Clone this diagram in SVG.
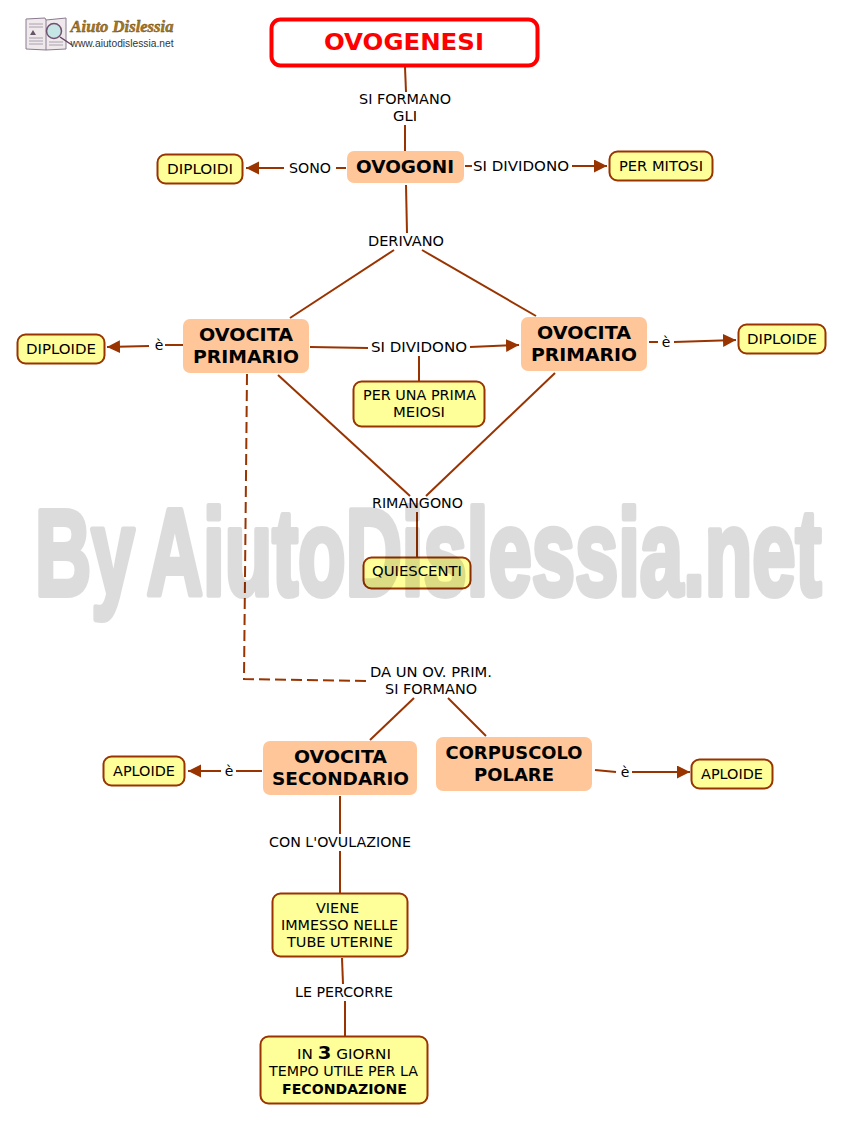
<svg xmlns="http://www.w3.org/2000/svg" width="855" height="1134" viewBox="0 0 855 1134">
<defs>
<marker id="arrow" markerUnits="userSpaceOnUse" markerWidth="14" markerHeight="14" refX="13" refY="6.5" orient="auto"><path d="M0,0 L13,6.5 L0,13 Z" fill="#993300"/></marker>
</defs>
<style>
text{font-family:"DejaVu Sans",Verdana,sans-serif;fill:#000;text-anchor:middle}
.l{font-size:14px}
.b{font-size:18px;font-weight:bold}
.c line,.c polyline{stroke:#993300;stroke-width:2;fill:none}
.a{marker-end:url(#arrow)}
.y{fill:#ffff99;stroke:#993300;stroke-width:2}
.o{fill:#ffc799}
.pg{stroke:#a9a0ae;stroke-width:1}
</style>
<rect width="855" height="1134" fill="#fff"/>
<g id="logo">
<path d="M26,19 L45,18 L46,20 L66,18 L66,49 L46,50 L26,49 Z" fill="#efe9ec" stroke="#8a7a90"/>
<line x1="46" y1="20" x2="46" y2="50" stroke="#8a7a90"/>
<path d="M29,24H43M29,27H43M29,38H43M29,41H43M29,44H43M49,42H63M49,45H63" class="pg"/>
<path d="M30,35 l3,-5 l3,5 Z" fill="#665566"/>
<circle cx="54" cy="31" r="7.5" fill="#c5e6e4" stroke="#705070" stroke-width="1.5"/>
<line x1="60" y1="37" x2="72" y2="45" stroke="#604060" stroke-width="1.5"/>
<text x="122" y="32" textLength="103" lengthAdjust="spacingAndGlyphs" style="font-family:'Liberation Serif',serif;font-size:16px;font-weight:bold;font-style:italic;fill:#a87820;stroke:#6b4a14;stroke-width:.4">Aiuto Dislessia</text>
<text x="122" y="47" textLength="103" lengthAdjust="spacingAndGlyphs" style="font-family:'Liberation Sans',sans-serif;font-size:10.400px;fill:#333">www.aiutodislessia.net</text>
</g>
<g id="connectors" class="c">
<line x1="405" y1="67" x2="406" y2="92"/>
<line x1="405" y1="125" x2="405" y2="151"/>
<line x1="346" y1="168" x2="336" y2="168"/>
<line x1="284" y1="168" x2="246" y2="168" class="a"/>
<line x1="465" y1="166" x2="472" y2="166"/>
<line x1="572" y1="166" x2="607" y2="166" class="a"/>
<line x1="406" y1="185" x2="407" y2="233"/>
<line x1="394" y1="250" x2="290" y2="318"/>
<line x1="422" y1="250" x2="536" y2="316"/>
<line x1="183" y1="345" x2="165" y2="345"/>
<line x1="149" y1="346" x2="107" y2="347" class="a"/>
<line x1="310" y1="347" x2="368" y2="348"/>
<line x1="470" y1="347" x2="519" y2="345" class="a"/>
<line x1="419" y1="356" x2="419" y2="381"/>
<line x1="649" y1="342" x2="658" y2="342"/>
<line x1="674" y1="342" x2="736" y2="340" class="a"/>
<line x1="278" y1="375" x2="410" y2="496"/>
<line x1="555" y1="373" x2="426" y2="496"/>
<line x1="417" y1="512" x2="417" y2="557"/>
<polyline points="247,374 244,679 367,681" stroke-dasharray="11 5"/>
<line x1="414" y1="698" x2="370" y2="740"/>
<line x1="448" y1="698" x2="486" y2="736"/>
<line x1="262" y1="771" x2="236" y2="771"/>
<line x1="221" y1="771" x2="188" y2="771" class="a"/>
<line x1="595" y1="770" x2="616" y2="772"/>
<line x1="632" y1="772" x2="690" y2="772" class="a"/>
<line x1="340" y1="796" x2="340" y2="834"/>
<line x1="340" y1="851" x2="340" y2="893"/>
<line x1="342" y1="958" x2="343" y2="984"/>
<line x1="345" y1="1001" x2="345" y2="1036"/>
</g>
<g id="ovogenesi"><rect x="271.500" y="19.500" width="266" height="46" rx="9" fill="#fff" stroke="#ff0000" stroke-width="4"/><text x="404" y="50" textLength="160" lengthAdjust="spacingAndGlyphs" style="font-size:23px;font-weight:bold;fill:#ff0000">OVOGENESI</text></g>
<g id="ovogoni"><rect x="347" y="151" width="117" height="32" rx="7" class="o"/><text x="405" y="173" class="b" textLength="98" lengthAdjust="spacingAndGlyphs">OVOGONI</text></g>
<g id="diploidi"><rect x="157.500" y="154.500" width="85" height="29" rx="8" class="y"/><text x="200" y="174" class="l" textLength="66" lengthAdjust="spacingAndGlyphs">DIPLOIDI</text></g>
<g id="per-mitosi"><rect x="609.500" y="151.500" width="103" height="29" rx="8" class="y"/><text x="661" y="171" class="l" textLength="84" lengthAdjust="spacingAndGlyphs">PER MITOSI</text></g>
<g id="ovocita-primario-1"><rect x="183" y="319" width="126" height="54" rx="7" class="o"/><text x="246" y="341" class="b" textLength="94" lengthAdjust="spacingAndGlyphs">OVOCITA</text><text x="246" y="363" class="b" textLength="106" lengthAdjust="spacingAndGlyphs">PRIMARIO</text></g>
<g id="ovocita-primario-2"><rect x="521" y="317" width="126" height="54" rx="7" class="o"/><text x="584" y="339" class="b" textLength="94" lengthAdjust="spacingAndGlyphs">OVOCITA</text><text x="584" y="361" class="b" textLength="106" lengthAdjust="spacingAndGlyphs">PRIMARIO</text></g>
<g id="diploide-1"><rect x="17.500" y="334.500" width="87" height="29" rx="8" class="y"/><text x="61" y="354" class="l" textLength="70" lengthAdjust="spacingAndGlyphs">DIPLOIDE</text></g>
<g id="diploide-2"><rect x="738.500" y="324.500" width="87" height="29" rx="8" class="y"/><text x="782" y="344" class="l" textLength="70" lengthAdjust="spacingAndGlyphs">DIPLOIDE</text></g>
<g id="per-una-prima-meiosi"><rect x="353.500" y="381.500" width="131" height="45" rx="8" class="y"/><text x="419.500" y="400" class="l" textLength="113" lengthAdjust="spacingAndGlyphs">PER UNA PRIMA</text><text x="419" y="417" class="l" textLength="52" lengthAdjust="spacingAndGlyphs">MEIOSI</text></g>
<g id="quiescenti"><rect x="363.500" y="557.500" width="107" height="31" rx="8" class="y"/><text x="417" y="576" class="l" textLength="90" lengthAdjust="spacingAndGlyphs">QUIESCENTI</text></g>
<g id="ovocita-secondario"><rect x="263" y="741" width="154" height="54" rx="7" class="o"/><text x="340.500" y="763" class="b" textLength="93" lengthAdjust="spacingAndGlyphs">OVOCITA</text><text x="340.500" y="785" class="b" textLength="137" lengthAdjust="spacingAndGlyphs">SECONDARIO</text></g>
<g id="corpuscolo-polare"><rect x="436" y="737" width="156" height="54" rx="7" class="o"/><text x="514" y="759" class="b" textLength="137" lengthAdjust="spacingAndGlyphs">CORPUSCOLO</text><text x="514" y="781" class="b" textLength="80" lengthAdjust="spacingAndGlyphs">POLARE</text></g>
<g id="aploide-1"><rect x="103.500" y="756.500" width="81" height="29" rx="8" class="y"/><text x="144" y="776" class="l" textLength="62" lengthAdjust="spacingAndGlyphs">APLOIDE</text></g>
<g id="aploide-2"><rect x="691.500" y="759.500" width="81" height="29" rx="8" class="y"/><text x="732" y="779" class="l" textLength="62" lengthAdjust="spacingAndGlyphs">APLOIDE</text></g>
<g id="viene-immesso"><rect x="272.500" y="893.500" width="135" height="63" rx="8" class="y"/><text x="337.500" y="913" class="l" textLength="43" lengthAdjust="spacingAndGlyphs">VIENE</text><text x="339.500" y="930" class="l" textLength="117" lengthAdjust="spacingAndGlyphs">IMMESSO NELLE</text><text x="340" y="947" class="l" textLength="106" lengthAdjust="spacingAndGlyphs">TUBE UTERINE</text></g>
<g id="in-3-giorni"><rect x="260.500" y="1036.500" width="167" height="67" rx="8" class="y"/><text x="344" y="1059" class="l" textLength="94" lengthAdjust="spacingAndGlyphs">IN <tspan style="font-size:18px;font-weight:bold">3</tspan> GIORNI</text><text x="343.500" y="1076" class="l" textLength="149" lengthAdjust="spacingAndGlyphs">TEMPO UTILE PER LA</text><text x="344.500" y="1094" class="l" style="font-weight:bold" textLength="125" lengthAdjust="spacingAndGlyphs">FECONDAZIONE</text></g>
<g id="labels">
<text x="405" y="104" class="l" textLength="92" lengthAdjust="spacingAndGlyphs">SI FORMANO</text><text x="405" y="121" class="l" textLength="24" lengthAdjust="spacingAndGlyphs">GLI</text>
<text x="310" y="173" class="l" textLength="42" lengthAdjust="spacingAndGlyphs">SONO</text>
<text x="521" y="171" class="l" textLength="96" lengthAdjust="spacingAndGlyphs">SI DIVIDONO</text>
<text x="406" y="246" class="l" textLength="76" lengthAdjust="spacingAndGlyphs">DERIVANO</text>
<text x="159" y="350" class="l">è</text>
<text x="419" y="352" class="l" textLength="96" lengthAdjust="spacingAndGlyphs">SI DIVIDONO</text>
<text x="666" y="347" class="l">è</text>
<text x="417.500" y="508" class="l" textLength="91" lengthAdjust="spacingAndGlyphs">RIMANGONO</text>
<text x="431" y="677" class="l" textLength="122" lengthAdjust="spacingAndGlyphs">DA UN OV. PRIM.</text><text x="431" y="694" class="l" textLength="92" lengthAdjust="spacingAndGlyphs">SI FORMANO</text>
<text x="229" y="776" class="l">è</text>
<text x="625" y="777" class="l">è</text>
<text x="340" y="847" class="l" textLength="142" lengthAdjust="spacingAndGlyphs">CON L'OVULAZIONE</text>
<text x="344" y="997" class="l" textLength="98" lengthAdjust="spacingAndGlyphs">LE PERCORRE</text>
</g>
<text id="watermark" transform="translate(35,595) scale(.638,1)" x="0" y="0" opacity=".135" style="text-anchor:start;font-family:'Liberation Sans',sans-serif;font-weight:bold;font-size:122px;word-spacing:-10px;fill:#000;stroke:#000;stroke-width:6;stroke-linejoin:round">By AiutoDislessia.net</text>
</svg>
